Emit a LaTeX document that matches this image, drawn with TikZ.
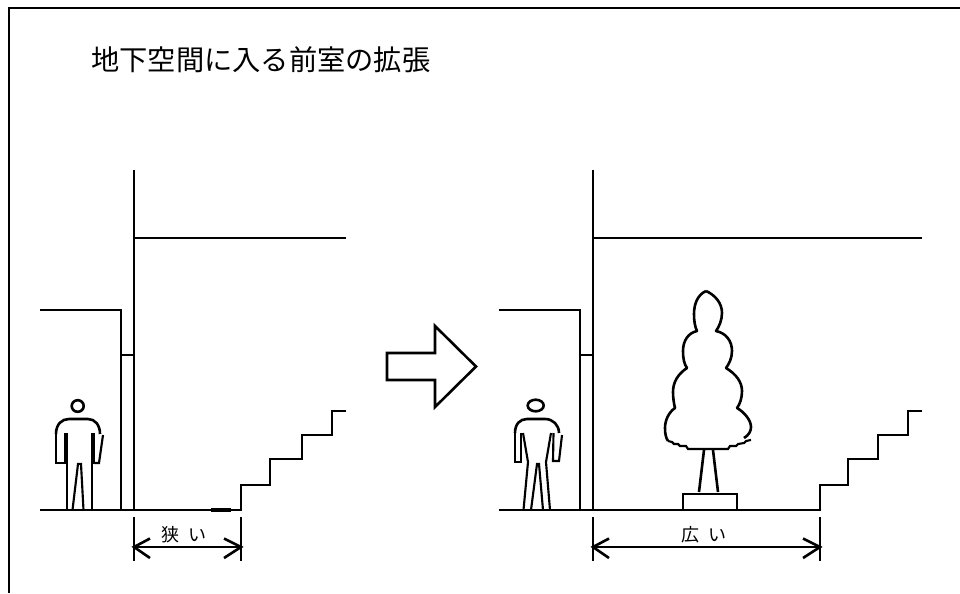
\documentclass[tikz,border=0pt]{standalone}
\usepackage{fontspec}
\newfontfamily\cjk{Noto Sans CJK JP}
\tikzset{
  ink/.style={draw=black,line width=1.95pt,line join=miter},
  thinink/.style={draw=black,line width=1.6pt},
  dimline/.style={draw=black,line width=1.95pt},
  titletext/.style={font=\cjk\fontsize{21.2}{25}\selectfont,anchor=west,inner sep=0pt},
  dimtext/.style={font=\cjk\fontsize{13.5}{15}\selectfont,inner sep=0pt},
}
% Standing figure on the left, beside the narrow room
\newcommand{\figureleft}{%
  \draw[ink] (77.7,406) ellipse [x radius=6, y radius=5.8];
  \draw[ink] (56,434) .. controls (56,424) and (62,419) .. (69,419) -- (88,419)
     .. controls (95,419) and (100,425) .. (100,434);
  \draw[thinink] (56,433) -- (56,463) -- (67,463) -- (67,510);
  \draw[thinink] (65,433) -- (65,463);
  \draw[ink] (67,433) -- (67,463);
  \draw[ink] (92,433) -- (92,510);
  \draw[thinink] (94,433) -- (94,463) -- (92,463);
  \draw[thinink] (94,463) -- (99,463) -- (103,435);
  \draw[thinink] (72.5,510) -- (78,464) -- (81,464) -- (83.5,510);
}
% Standing figure on the right, beside the enlarged room
\newcommand{\figureright}{%
  \draw[ink] (535.7,405.5) ellipse [x radius=8, y radius=5.8];
  \draw[ink] (515,433) .. controls (515,424) and (520,419) .. (527,419) -- (545,419)
     .. controls (553,419) and (559,425) .. (559,433);
  \draw[thinink] (515,433) -- (515,462) -- (521,462) -- (521,433);
  \draw[thinink] (523,433) -- (528,462) -- (523.5,510);
  \draw[thinink] (551,433) -- (546,462) -- (550,510);
  \draw[thinink] (553.5,433) -- (553,461) -- (559,461) -- (562,435);
  \draw[thinink] (531,510) -- (537,464) -- (539,464) -- (543,510);
}
\begin{document}
\begin{tikzpicture}[x=0.75pt,y=-0.75pt]
\useasboundingbox (0,0) rectangle (960,593);
\fill[white] (0,0) rectangle (960,593);

% Sheet border, open on the right and at the bottom
\draw[ink] (9,593) -- (9,8) -- (960,8);

\node[titletext] (title) at (91,60) {地下空間に入る前室の拡張};

% Left section: narrow ante-room
\draw[ink] (134,170) -- (134,510);
\draw[ink] (134,238) -- (346,238);
\draw[ink] (40,310) -- (121,310) -- (121,510);
\draw[ink] (121,355) -- (134,355);
\draw[ink] (40,510) -- (241,510) -- (241,485) -- (270,485) -- (270,459)
   -- (302,459) -- (302,435) -- (332,435) -- (332,411) -- (346,411);
\draw[line width=2.4pt] (211,510) -- (231,510);
\figureleft

% Direction arrow between the two sections
\draw[ink] (387,353) -- (435,353) -- (435,326) -- (476,366.5) -- (435,407)
   -- (435,380) -- (387,380) -- cycle;

% Right section: enlarged ante-room
\draw[ink] (593,170) -- (593,510);
\draw[ink] (593,238) -- (922,238);
\draw[ink] (499,310) -- (580,310) -- (580,510);
\draw[ink] (580,355) -- (593,355);
\draw[ink] (499,510) -- (820,510) -- (820,485) -- (848,485) -- (848,459)
   -- (878,459) -- (878,435) -- (908,435) -- (908,411) -- (922,411);
\figureright

% Tree crown: four lobes each side, joined at cusps
\draw[ink,line join=round] (706,291) .. controls (697,295) and (694,305) .. (694,314)
   .. controls (694,321) and (695,327) .. (697,331)
   .. controls (688,333) and (683,341) .. (683,351)
   .. controls (683,358) and (684,364) .. (687,368)
   .. controls (678,374) and (673,382) .. (673,392)
   .. controls (673,398) and (674,404) .. (675,408)
   .. controls (669,412) and (665,420) .. (665,428)
   .. controls (665,434) and (666,438) .. (668,441);
\draw[thinink] (668,441) -- (672,442) -- (674,444) -- (678,444) -- (680,446)
   -- (686,446) -- (688,449) -- (704,449) -- (728,449) -- (730,446) -- (736,446)
   -- (738,444) -- (744,443) -- (746,441) -- (751,440);
\draw[ink,line join=round] (706,291) .. controls (715,295) and (722,303) .. (722,313)
   .. controls (722,320) and (719,327) .. (716,331)
   .. controls (726,333) and (732,341) .. (732,351)
   .. controls (732,358) and (729,364) .. (726,368)
   .. controls (736,374) and (742,382) .. (742,391)
   .. controls (742,398) and (740,404) .. (737,408)
   .. controls (744,412) and (751,420) .. (751,427)
   .. controls (751,431) and (749,435) .. (744,438);

% Trunk and planter
\draw[ink] (704,450) -- (699,492);
\draw[ink] (713,450) -- (718,492);
\draw[ink] (683,510) -- (683,494) -- (737,494) -- (737,510);

% Width dimensions
\coordinate (na) at (134,547);
\coordinate (nb) at (241,547);
\coordinate (wa) at (593,547);
\coordinate (wb) at (820,547);
\draw[dimline] (134,517) -- (134,561);
\draw[dimline] (241,517) -- (241,561);
\draw[dimline] (na) -- (nb);
\draw[dimline] (150,538.5) -- (na) -- (150,558);
\draw[dimline] (224,538.5) -- (nb) -- (224,558);
\node[dimtext] (narrow) at (184,535) {狭\hspace{0.5em}い};

\draw[dimline] (593,517) -- (593,561);
\draw[dimline] (820,517) -- (820,561);
\draw[dimline] (wa) -- (wb);
\draw[dimline] (609,538.5) -- (wa) -- (609,558);
\draw[dimline] (803,538.5) -- (wb) -- (803,558);
\node[dimtext] (wide) at (704,535) {広\hspace{0.5em}い};
\end{tikzpicture}
\end{document}
